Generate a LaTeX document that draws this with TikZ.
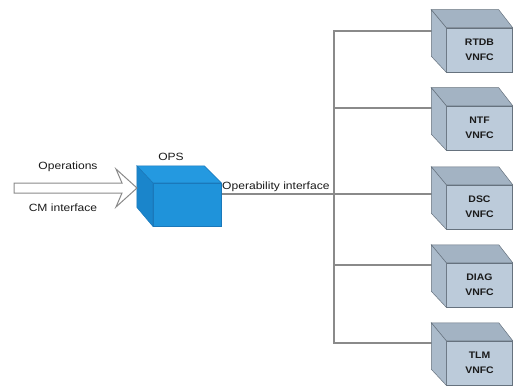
\documentclass[tikz,border=0pt]{standalone}
\usepackage{fontspec}
\setmainfont{Liberation Sans}
\newfontfamily\lblfont[FakeStretch=1.15]{Liberation Sans}
\newfontfamily\boxfont[FakeStretch=1.1]{Liberation Sans}
\usetikzlibrary{calc}
\definecolor{gfront}{HTML}{BCCBDA}
\definecolor{gtop}{HTML}{A3B3C3}
\definecolor{gside}{HTML}{ABBBCB}
\definecolor{gedge}{HTML}{66727E}
\definecolor{bfront}{HTML}{1F93DA}
\definecolor{btop}{HTML}{2499E0}
\definecolor{bside}{HTML}{1A85CB}
\definecolor{bedge}{HTML}{1A78BA}
\definecolor{wire}{HTML}{8A8A8A}
\definecolor{txt}{HTML}{1A1A1A}
\tikzset{
  lbl/.style={font=\lblfont\fontsize{10.5}{15}\selectfont, text=txt, inner sep=0pt},
  gface/.style={draw=gedge, line width=0.5pt, minimum width=66pt, minimum height=44pt,
     fill=gfront, align=center, font=\boxfont\fontsize{9.5}{15}\selectfont\bfseries, text=txt, inner sep=0pt},
  bface/.style={draw=bedge, line width=0.5pt, minimum width=68pt, minimum height=43pt, fill=bfront, inner sep=0pt},
  wireline/.style={draw=wire, line width=1.1pt},
}
\begin{document}
\begin{tikzpicture}[x=1pt,y=-1pt]
\useasboundingbox (0,0) rectangle (513,385);
% bus wiring
\coordinate (busT) at (334,31);
\coordinate (busN) at (334,108);
\coordinate (busD) at (334,194);
\coordinate (busG) at (334,265);
\coordinate (busB) at (334,343);
\coordinate (rtdbL) at (432,31);
\coordinate (ntfL) at (432,108);
\coordinate (dscL) at (432,194);
\coordinate (diagL) at (432,265);
\coordinate (tlmL) at (432,343);
\coordinate (opsR) at (221,194);
\draw[wireline] (rtdbL) -- (busT) -- (busB) -- (tlmL);
\draw[wireline] (busN) -- (ntfL);
\draw[wireline] (opsR) -- (dscL);
\draw[wireline] (busG) -- (diagL);
% gray boxes
\foreach \nm/\yy/\tx in {rtdb/50/RTDB, ntf/128/NTF, dsc/207/DSC, diag/285/DIAG, tlm/363/TLM}{
  \node[gface] (\nm) at (479.5,\yy) {\tx\\VNFC};
  \fill[gtop,draw=gedge,line width=0.5pt] (\nm.north west) -- (\nm.north east) -- ($(\nm.north east)+(-14,-18)$) -- ($(\nm.north west)+(-15,-18)$) -- cycle;
  \fill[gside,draw=gedge,line width=0.5pt] (\nm.north west) -- (\nm.south west) -- ($(\nm.south west)+(-15,-16)$) -- ($(\nm.north west)+(-15,-18)$) -- cycle;
}
% OPS cube
\node[bface] (ops) at (187,204.5) {};
\fill[btop,draw=bedge,line width=0.5pt] (ops.north west) -- (ops.north east) -- ($(ops.north east)+(-17,-17)$) -- ($(ops.north west)+(-16,-17)$) -- cycle;
\fill[bside,draw=bedge,line width=0.5pt] (ops.north west) -- (ops.south west) -- ($(ops.south west)+(-16,-19)$) -- ($(ops.north west)+(-16,-17)$) -- cycle;
\node[lbl] (opsl) at (171,157) {OPS};
\node[lbl, anchor=south west] (opi) at (222,192) {Operability interface};
% input arrow
\coordinate (arrS) at (14,188);
\draw[draw=wire, line width=1pt, fill=white, line join=miter]
  ($(arrS)+(0,-5)$) -- (122,183) -- (116,169) -- (137,188) -- (116,207) -- (122,193) -- ($(arrS)+(0,5)$) -- cycle;
\node[lbl] (opn) at (68,167) {Operations};
\node[lbl] (cmi) at (63,208) {CM interface};
\end{tikzpicture}
\end{document}
